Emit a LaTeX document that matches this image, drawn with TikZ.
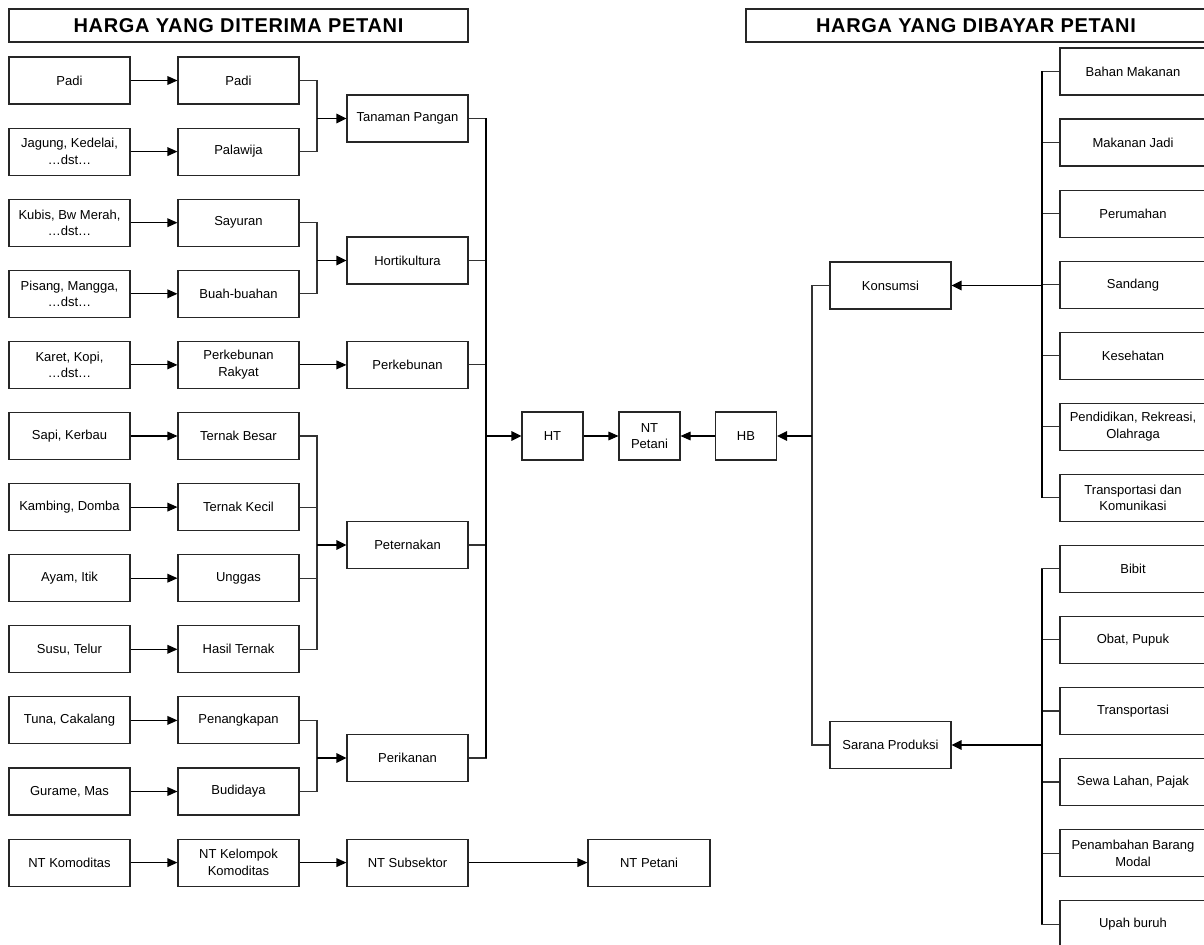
\documentclass[tikz,border=0pt]{standalone}
\usepackage{fontspec}
\setmainfont{Liberation Sans}
\newfontfamily\titlefont[LetterSpace=3.5]{Liberation Sans}
\usetikzlibrary{arrows.meta}
\begin{document}
\begin{tikzpicture}[x=0.75pt,y=-0.75pt,
  box/.style={draw=black!85, line width=0.8pt, minimum width=90.75pt, minimum height=35.25pt,
    inner sep=1pt, align=center, font=\fontsize{9.75}{12.5}\selectfont},
  wbox/.style={box, minimum width=109.5pt},
  sbox/.style={box, minimum width=45.75pt, minimum height=36pt},
  titlebox/.style={draw=black!85, line width=0.8pt, minimum height=24.75pt, inner sep=0pt,
    font=\titlefont\fontsize{15}{18}\bfseries\selectfont},
  stub/.style={draw=black!80, line width=0.8pt},
  bus/.style={draw=black, line width=1.3pt},
  arr/.style={draw=black, line width=0.8pt, -{Triangle[length=7.5pt,width=6.5pt]}},
  arrthick/.style={draw=black, line width=1.3pt, -{Triangle[length=7.5pt,width=7pt]}}
]
\useasboundingbox (0,0) rectangle (1204,945);

% titles
\node[titlebox, minimum width=344.25pt] (tL) at (238.5,25.5) {HARGA YANG DITERIMA PETANI};
\node[titlebox, minimum width=345pt] (tR) at (976,25.5) {HARGA YANG DIBAYAR PETANI};

% left column 1
\node[box] (a1) at (69.5,80.5) {Padi};
\node[box] (a2) at (69.5,151.6) {Jagung, Kedelai,\\…dst…};
\node[box] (a3) at (69.5,222.7) {Kubis, Bw Merah,\\…dst…};
\node[box] (a4) at (69.5,293.8) {Pisang, Mangga,\\…dst…};
\node[box] (a5) at (69.5,364.9) {Karet, Kopi,\\…dst…};
\node[box] (a6) at (69.5,436) {Sapi, Kerbau};
\node[box] (a7) at (69.5,507.1) {Kambing, Domba};
\node[box] (a8) at (69.5,578.2) {Ayam, Itik};
\node[box] (a9) at (69.5,649.3) {Susu, Telur};
\node[box] (a10) at (69.5,720.4) {Tuna, Cakalang};
\node[box] (a11) at (69.5,791.5) {Gurame, Mas};
\node[box] (a12) at (69.5,862.6) {NT Komoditas};

% left column 2
\node[box] (b1) at (238.5,80.5) {Padi};
\node[box] (b2) at (238.5,151.6) {Palawija};
\node[box] (b3) at (238.5,222.7) {Sayuran};
\node[box] (b4) at (238.5,293.8) {Buah-buahan};
\node[box] (b5) at (238.5,364.9) {Perkebunan\\Rakyat};
\node[box] (b6) at (238.5,436) {Ternak Besar};
\node[box] (b7) at (238.5,507.1) {Ternak Kecil};
\node[box] (b8) at (238.5,578.2) {Unggas};
\node[box] (b9) at (238.5,649.3) {Hasil Ternak};
\node[box] (b10) at (238.5,720.4) {Penangkapan};
\node[box] (b11) at (238.5,791.5) {Budidaya};
\node[box] (b12) at (238.5,862.6) {NT Kelompok\\Komoditas};

% left column 3
\node[box] (tp) at (407.5,118.5) {Tanaman Pangan};
\node[box] (hort) at (407.5,260.5) {Hortikultura};
\node[box] (perk) at (407.5,364.9) {Perkebunan};
\node[box] (pet) at (407.5,545) {Peternakan};
\node[box] (perik) at (407.5,758) {Perikanan};
\node[box] (c12) at (407.5,862.6) {NT Subsektor};
\node[box, minimum width=91.5pt] (d12) at (649,862.6) {NT Petani};

% centre
\node[sbox] (ht) at (552.5,436) {HT};
\node[sbox] (ntp) at (649.5,436) {NT\\Petani};
\node[sbox] (hb) at (746,436) {HB};

% right side
\node[box] (kons) at (890.5,285.5) {Konsumsi};
\node[box] (sar) at (890.5,745) {Sarana Produksi};

\node[wbox] (k1) at (1133,71.5) {Bahan Makanan};
\node[wbox] (k2) at (1133,142.5) {Makanan Jadi};
\node[wbox] (k3) at (1133,213.6) {Perumahan};
\node[wbox] (k4) at (1133,284.7) {Sandang};
\node[wbox] (k5) at (1133,355.7) {Kesehatan};
\node[wbox] (k6) at (1133,426.8) {Pendidikan, Rekreasi,\\Olahraga};
\node[wbox] (k7) at (1133,497.8) {Transportasi dan\\Komunikasi};
\node[wbox] (s1) at (1133,568.9) {Bibit};
\node[wbox] (s2) at (1133,639.9) {Obat, Pupuk};
\node[wbox] (s3) at (1133,711) {Transportasi};
\node[wbox] (s4) at (1133,782) {Sewa Lahan, Pajak};
\node[wbox] (s5) at (1133,853.1) {Penambahan Barang\\Modal};
\node[wbox] (s6) at (1133,924.1) {Upah buruh};

% column 1 -> column 2
\foreach \i in {1,...,12} \draw[arr] (a\i.east) -- (b\i.west);

% group junctions
\coordinate (jtp) at (317,118.5);
\coordinate (jh) at (317,260.5);
\coordinate (jp) at (317,545);
\coordinate (jk) at (317,758);
\draw[stub] (b1.east) -| (jtp);
\draw[stub] (b2.east) -| (jtp);
\draw[stub] (b3.east) -| (jh);
\draw[stub] (b4.east) -| (jh);
\foreach \i in {6,...,9} \draw[stub] (b\i.east) -| (jp);
\draw[stub] (b10.east) -| (jk);
\draw[stub] (b11.east) -| (jk);
\draw[arrthick] (jtp) -- (tp.west);
\draw[arrthick] (jh) -- (hort.west);
\draw[arr] (b5.east) -- (perk.west);
\draw[arrthick] (jp) -- (pet.west);
\draw[arrthick] (jk) -- (perik.west);

% main left bus
\coordinate (busL) at (486,436);
\foreach \n in {tp,hort,perk,pet,perik} \draw[stub] (\n.east) -| (busL);
\draw[bus] (tp.east -| busL) -- (perik.east -| busL);
\draw[arrthick] (busL) -- (ht.west);

% centre arrows
\draw[arr] (ht.east) -- (ntp.west);
\draw[arr] (hb.west) -- (ntp.east);

% right buses
\coordinate (busK) at (1042,285.5);
\foreach \i in {1,...,7} \draw[stub] (k\i.west) -| (busK);
\draw[bus] (k1.west -| busK) -- (k7.west -| busK);
\draw[arrthick] (busK) -- (kons.east);

\coordinate (busS) at (1042,745);
\foreach \i in {1,...,6} \draw[stub] (s\i.west) -| (busS);
\draw[bus] (s1.west -| busS) -- (s6.west -| busS);
\draw[arrthick] (busS) -- (sar.east);

\coordinate (busM) at (812,436);
\draw[stub] (kons.west) -| (busM);
\draw[stub] (sar.west) -| (busM);
\draw[arrthick] (busM) -- (hb.east);

% bottom chain
\draw[arr] (b12.east) -- (c12.west);
\draw[arr] (c12.east) -- (d12.west);
\end{tikzpicture}
\end{document}
